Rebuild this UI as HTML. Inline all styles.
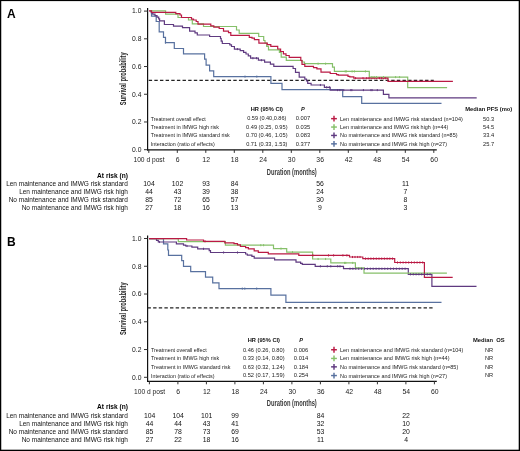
<!DOCTYPE html>
<html><head><meta charset="utf-8"><title>Survival</title>
<style>
html,body{margin:0;padding:0;background:#fff;}
body{width:520px;height:451px;overflow:hidden;}
svg{display:block;}
svg text{font-family:"Liberation Sans", sans-serif;}
</style></head>
<body>
<svg style="will-change:transform" width="520" height="451" viewBox="0 0 520 451">
<rect x="0" y="0" width="520" height="451" fill="#fff"/>
<text x="7.1" y="18.2" font-size="12" font-weight="bold" fill="#000">A</text>
<line x1="147.6" y1="7.9" x2="147.6" y2="150.5" stroke="#111" stroke-width="1.2"/>
<line x1="144.0" y1="11.1" x2="147.6" y2="11.1" stroke="#333" stroke-width="1.0"/>
<text x="141.5" y="13.45" font-size="6.75" text-anchor="end" fill="#151515">1.0</text>
<line x1="144.0" y1="38.82" x2="147.6" y2="38.82" stroke="#333" stroke-width="1.0"/>
<text x="141.5" y="41.17" font-size="6.75" text-anchor="end" fill="#151515">0.8</text>
<line x1="144.0" y1="66.54" x2="147.6" y2="66.54" stroke="#333" stroke-width="1.0"/>
<text x="141.5" y="68.89" font-size="6.75" text-anchor="end" fill="#151515">0.6</text>
<line x1="144.0" y1="94.26" x2="147.6" y2="94.26" stroke="#333" stroke-width="1.0"/>
<text x="141.5" y="96.61" font-size="6.75" text-anchor="end" fill="#151515">0.4</text>
<line x1="144.0" y1="121.98" x2="147.6" y2="121.98" stroke="#333" stroke-width="1.0"/>
<text x="141.5" y="124.33" font-size="6.75" text-anchor="end" fill="#151515">0.2</text>
<line x1="144.0" y1="149.7" x2="147.6" y2="149.7" stroke="#333" stroke-width="1.0"/>
<text x="141.5" y="152.05" font-size="6.75" text-anchor="end" fill="#151515">0.0</text>
<line x1="147.0" y1="149.9" x2="436.8" y2="149.9" stroke="#111" stroke-width="1.3"/>
<line x1="148.8" y1="149.9" x2="148.8" y2="152.9" stroke="#333" stroke-width="1.0"/>
<text x="149.0" y="162.20000000000002" font-size="6.65" text-anchor="middle" fill="#222">100 d post</text>
<line x1="177.3" y1="149.9" x2="177.3" y2="152.9" stroke="#333" stroke-width="1.0"/>
<text x="177.65" y="162.3" font-size="6.85" text-anchor="middle" fill="#222">6</text>
<line x1="205.8" y1="149.9" x2="205.8" y2="152.9" stroke="#333" stroke-width="1.0"/>
<text x="206.15" y="162.3" font-size="6.85" text-anchor="middle" fill="#222">12</text>
<line x1="234.3" y1="149.9" x2="234.3" y2="152.9" stroke="#333" stroke-width="1.0"/>
<text x="234.65" y="162.3" font-size="6.85" text-anchor="middle" fill="#222">18</text>
<line x1="262.8" y1="149.9" x2="262.8" y2="152.9" stroke="#333" stroke-width="1.0"/>
<text x="263.15" y="162.3" font-size="6.85" text-anchor="middle" fill="#222">24</text>
<line x1="291.3" y1="149.9" x2="291.3" y2="152.9" stroke="#333" stroke-width="1.0"/>
<text x="291.65" y="162.3" font-size="6.85" text-anchor="middle" fill="#222">30</text>
<line x1="319.8" y1="149.9" x2="319.8" y2="152.9" stroke="#333" stroke-width="1.0"/>
<text x="320.15" y="162.3" font-size="6.85" text-anchor="middle" fill="#222">36</text>
<line x1="348.3" y1="149.9" x2="348.3" y2="152.9" stroke="#333" stroke-width="1.0"/>
<text x="348.65" y="162.3" font-size="6.85" text-anchor="middle" fill="#222">42</text>
<line x1="376.8" y1="149.9" x2="376.8" y2="152.9" stroke="#333" stroke-width="1.0"/>
<text x="377.15" y="162.3" font-size="6.85" text-anchor="middle" fill="#222">48</text>
<line x1="405.3" y1="149.9" x2="405.3" y2="152.9" stroke="#333" stroke-width="1.0"/>
<text x="405.65" y="162.3" font-size="6.85" text-anchor="middle" fill="#222">54</text>
<line x1="433.8" y1="149.9" x2="433.8" y2="152.9" stroke="#333" stroke-width="1.0"/>
<text x="434.15" y="162.3" font-size="6.85" text-anchor="middle" fill="#222">60</text>
<text x="266.8" y="174.6" font-size="8.3" font-weight="bold" textLength="50" lengthAdjust="spacingAndGlyphs" fill="#3a3a3a">Duration (months)</text>
<text x="0" y="0" font-size="8.6" font-weight="bold" fill="#1e1e1e" textLength="52.7" lengthAdjust="spacingAndGlyphs" transform="translate(126.0 105.15) rotate(-90)">Survival probability</text>
<line x1="148.7" y1="80.4" x2="433.8" y2="80.4" stroke="#222" stroke-width="1.2" stroke-dasharray="3.4 2.24"/>
<path d="M150 11.1 H151.5 V16.2 H156.2 V21.5 H159.2 V31.9 H163.5 V37.3 H165.5 V42.7 H174.3 V48.5 H183.5 V53.8 H204.6 V59.2 H206.1 V65.2 H209.6 V70.8 H213.7 V76.6 H270.9 V83.3 H282 V89.7 H342.7 V96.7 H361.7 V103.3 H441.5" fill="none" stroke="#58719f" stroke-width="1.2" stroke-linejoin="miter" stroke-linecap="butt"/>
<path d="M149.5 11 H151.3 V12.7 H152.7 V14.2 H155 V15.6 H157 V17.2 H158.7 V18.8 H159.6 V20.8 H164.4 V24.5 H173.5 V26.2 H182.5 V27.7 H189.6 V31.2 H195 V32.8 H197.3 V35 H209.6 V36.5 H220.5 V38.5 H221.2 V41.2 H222.3 V43.5 H229.8 V44.8 H231.5 V46.5 H234.4 V49.1 H240.2 V50.6 H243.6 V52.3 H246 V54 H248.3 V55.8 H250.6 V58.2 H258.4 V60.2 H264.6 V62.2 H270.4 V64.2 H273.8 V66.4 H293.1 V68.5 H295.5 V72.3 H299.2 V77.2 H304.8 V79.2 H306.5 V81 H307.7 V83.3 H311.1 V85 H324.4 V87.3 H330.2 V90.1 H383.4 V94.3 H388.9 V97.8 H476.7" fill="none" stroke="#5f3a80" stroke-width="1.2" stroke-linejoin="miter" stroke-linecap="butt"/>
<path d="M150 10.8 H165.6 V14.2 H178 V17.5 H188.5 V20 H192.3 V23.8 H203.5 V26.5 H236.5 V30 H239.2 V33.3 H258.7 V36.5 H263.7 V40.5 H265 V43 H266.7 V46.4 H268.5 V49.8 H279.4 V52.5 H281.2 V57.1 H286.3 V60.4 H302 V62 H304.5 V63.7 H332.5 V67.2 H334.4 V71.4 H369.3 V77.1 H407.7 V87.6 H447.1" fill="none" stroke="#86c06a" stroke-width="1.2" stroke-linejoin="miter" stroke-linecap="butt"/>
<path d="M149 10.9 H151.5 V12.3 H175.8 V13.7 H180 V15 H181.5 V17.5 H191.5 V19.2 H193.5 V20 H196.2 V21.5 H198 V24.2 H210.8 V25.8 H213.8 V27.1 H219.2 V28.5 H223.5 V31.2 H228.5 V32.7 H230.8 V35.4 H249.3 V37.3 H252 V38.2 H254.4 V39.6 H258.9 V43.1 H267.3 V44.7 H270.8 V46.4 H277.7 V49 H280.6 V51.5 H283.4 V53.8 H286 V55.5 H289.2 V57.3 H300.8 V60.5 H302 V64.4 H304.8 V66.3 H313.5 V67.6 H316.9 V68.9 H321 V72.1 H330.2 V73.5 H336.5 V74.6 H338.3 V75.2 H348 V76.3 H349.8 V76.9 H353.8 V78.2 H388 V81.3 H452.9" fill="none" stroke="#ba1a44" stroke-width="1.2" stroke-linejoin="miter" stroke-linecap="butt"/>
<line x1="165.4" y1="41.65" x2="165.4" y2="43.75" stroke="#58719f" stroke-width="1.0"/>
<line x1="245.0" y1="75.55" x2="245.0" y2="77.65" stroke="#58719f" stroke-width="1.0"/>
<line x1="256.8" y1="75.55" x2="256.8" y2="77.65" stroke="#58719f" stroke-width="1.0"/>
<line x1="237.4" y1="48.05" x2="237.4" y2="50.15" stroke="#5f3a80" stroke-width="1.0"/>
<line x1="252.9" y1="57.15" x2="252.9" y2="59.25" stroke="#5f3a80" stroke-width="1.0"/>
<line x1="256.5" y1="57.15" x2="256.5" y2="59.25" stroke="#5f3a80" stroke-width="1.0"/>
<line x1="261.4" y1="59.15" x2="261.4" y2="61.25" stroke="#5f3a80" stroke-width="1.0"/>
<line x1="337.5" y1="89.05" x2="337.5" y2="91.15" stroke="#5f3a80" stroke-width="1.0"/>
<line x1="339.8" y1="89.05" x2="339.8" y2="91.15" stroke="#5f3a80" stroke-width="1.0"/>
<line x1="343.8" y1="89.05" x2="343.8" y2="91.15" stroke="#5f3a80" stroke-width="1.0"/>
<line x1="350.8" y1="89.05" x2="350.8" y2="91.15" stroke="#5f3a80" stroke-width="1.0"/>
<line x1="351.9" y1="89.05" x2="351.9" y2="91.15" stroke="#5f3a80" stroke-width="1.0"/>
<line x1="363.4" y1="89.05" x2="363.4" y2="91.15" stroke="#5f3a80" stroke-width="1.0"/>
<line x1="370.9" y1="89.05" x2="370.9" y2="91.15" stroke="#5f3a80" stroke-width="1.0"/>
<line x1="372.1" y1="89.05" x2="372.1" y2="91.15" stroke="#5f3a80" stroke-width="1.0"/>
<line x1="377.3" y1="89.05" x2="377.3" y2="91.15" stroke="#5f3a80" stroke-width="1.0"/>
<line x1="326.7" y1="86.25" x2="326.7" y2="88.35" stroke="#5f3a80" stroke-width="1.0"/>
<line x1="329.4" y1="86.25" x2="329.4" y2="88.35" stroke="#5f3a80" stroke-width="1.0"/>
<line x1="320.4" y1="83.95" x2="320.4" y2="86.05" stroke="#5f3a80" stroke-width="1.0"/>
<line x1="355.6" y1="77.15" x2="355.6" y2="79.25" stroke="#ba1a44" stroke-width="1.0"/>
<line x1="363.0" y1="77.15" x2="363.0" y2="79.25" stroke="#ba1a44" stroke-width="1.0"/>
<line x1="366.7" y1="77.15" x2="366.7" y2="79.25" stroke="#ba1a44" stroke-width="1.0"/>
<line x1="369" y1="77.15" x2="369" y2="79.25" stroke="#ba1a44" stroke-width="1.0"/>
<line x1="371.9" y1="77.15" x2="371.9" y2="79.25" stroke="#ba1a44" stroke-width="1.0"/>
<line x1="374.2" y1="77.15" x2="374.2" y2="79.25" stroke="#ba1a44" stroke-width="1.0"/>
<line x1="376.5" y1="77.15" x2="376.5" y2="79.25" stroke="#ba1a44" stroke-width="1.0"/>
<line x1="379.4" y1="77.15" x2="379.4" y2="79.25" stroke="#ba1a44" stroke-width="1.0"/>
<line x1="381.7" y1="77.15" x2="381.7" y2="79.25" stroke="#ba1a44" stroke-width="1.0"/>
<line x1="383.5" y1="77.15" x2="383.5" y2="79.25" stroke="#ba1a44" stroke-width="1.0"/>
<line x1="385.2" y1="77.15" x2="385.2" y2="79.25" stroke="#ba1a44" stroke-width="1.0"/>
<line x1="318.1" y1="62.65" x2="318.1" y2="64.75" stroke="#86c06a" stroke-width="1.0"/>
<line x1="325.6" y1="62.65" x2="325.6" y2="64.75" stroke="#86c06a" stroke-width="1.0"/>
<line x1="345.2" y1="70.35" x2="345.2" y2="72.45" stroke="#86c06a" stroke-width="1.0"/>
<line x1="346.3" y1="70.35" x2="346.3" y2="72.45" stroke="#86c06a" stroke-width="1.0"/>
<line x1="352.1" y1="70.35" x2="352.1" y2="72.45" stroke="#86c06a" stroke-width="1.0"/>
<line x1="354.4" y1="70.35" x2="354.4" y2="72.45" stroke="#86c06a" stroke-width="1.0"/>
<line x1="365.4" y1="70.35" x2="365.4" y2="72.45" stroke="#86c06a" stroke-width="1.0"/>
<line x1="371.9" y1="76.05" x2="371.9" y2="78.15" stroke="#86c06a" stroke-width="1.0"/>
<line x1="374.2" y1="76.05" x2="374.2" y2="78.15" stroke="#86c06a" stroke-width="1.0"/>
<line x1="376.5" y1="76.05" x2="376.5" y2="78.15" stroke="#86c06a" stroke-width="1.0"/>
<line x1="383.5" y1="76.05" x2="383.5" y2="78.15" stroke="#86c06a" stroke-width="1.0"/>
<line x1="395.6" y1="76.05" x2="395.6" y2="78.15" stroke="#86c06a" stroke-width="1.0"/>
<line x1="399.6" y1="76.05" x2="399.6" y2="78.15" stroke="#86c06a" stroke-width="1.0"/>
<text x="266.85" y="111.0" font-size="5.4" text-anchor="middle" font-weight="bold" textLength="32.3" lengthAdjust="spacingAndGlyphs" fill="#111">HR (95% CI)</text>
<text x="302.75" y="111.0" font-size="5.6" text-anchor="middle" font-weight="bold" font-style="italic" fill="#111">P</text>
<text x="150.7" y="120.65" font-size="5.8" textLength="55.1" lengthAdjust="spacingAndGlyphs" fill="#222">Treatment overall effect</text>
<text x="150.7" y="129.05" font-size="5.8" textLength="68.3" lengthAdjust="spacingAndGlyphs" fill="#222">Treatment in IMWG high risk</text>
<text x="150.7" y="137.45" font-size="5.8" textLength="79.1" lengthAdjust="spacingAndGlyphs" fill="#222">Treatment in IMWG standard risk</text>
<text x="150.7" y="145.85" font-size="5.8" textLength="64.0" lengthAdjust="spacingAndGlyphs" fill="#222">Interaction (ratio of effects)</text>
<text x="266.8" y="120.4" font-size="5.7" text-anchor="middle" textLength="39.2" lengthAdjust="spacingAndGlyphs" fill="#222">0.59 (0.40,0.86)</text>
<text x="266.8" y="128.8" font-size="5.7" text-anchor="middle" textLength="41.5" lengthAdjust="spacingAndGlyphs" fill="#222">0.49 (0.25, 0.95)</text>
<text x="266.8" y="137.2" font-size="5.7" text-anchor="middle" textLength="41.5" lengthAdjust="spacingAndGlyphs" fill="#222">0.70 (0.46, 1.05)</text>
<text x="266.8" y="145.6" font-size="5.7" text-anchor="middle" textLength="41.2" lengthAdjust="spacingAndGlyphs" fill="#222">0.71 (0.33, 1.53)</text>
<text x="302.9" y="120.4" font-size="5.7" text-anchor="middle" textLength="14.4" lengthAdjust="spacingAndGlyphs" fill="#222">0.007</text>
<text x="302.9" y="128.8" font-size="5.7" text-anchor="middle" textLength="14.4" lengthAdjust="spacingAndGlyphs" fill="#222">0.035</text>
<text x="302.9" y="137.2" font-size="5.7" text-anchor="middle" textLength="14.4" lengthAdjust="spacingAndGlyphs" fill="#222">0.083</text>
<text x="302.9" y="145.6" font-size="5.7" text-anchor="middle" textLength="14.4" lengthAdjust="spacingAndGlyphs" fill="#222">0.377</text>
<line x1="331.1" y1="118.65" x2="336.9" y2="118.65" stroke="#ba1a44" stroke-width="1.45"/>
<line x1="334.0" y1="115.75" x2="334.0" y2="121.55" stroke="#ba1a44" stroke-width="1.45"/>
<text x="340.0" y="120.65" font-size="5.8" textLength="122.75" lengthAdjust="spacingAndGlyphs" fill="#222">Len maintenance and IMWG risk standard (n=104)</text>
<line x1="331.1" y1="127.05" x2="336.9" y2="127.05" stroke="#86c06a" stroke-width="1.45"/>
<line x1="334.0" y1="124.15" x2="334.0" y2="129.95" stroke="#86c06a" stroke-width="1.45"/>
<text x="340.0" y="129.05" font-size="5.8" textLength="108.25" lengthAdjust="spacingAndGlyphs" fill="#222">Len maintenance and IMWG risk high (n=44)</text>
<line x1="331.1" y1="135.45" x2="336.9" y2="135.45" stroke="#5f3a80" stroke-width="1.45"/>
<line x1="334.0" y1="132.55" x2="334.0" y2="138.35" stroke="#5f3a80" stroke-width="1.45"/>
<text x="340.0" y="137.45" font-size="5.8" textLength="117.5" lengthAdjust="spacingAndGlyphs" fill="#222">No maintenance and IMWG risk standard (n=85)</text>
<line x1="331.1" y1="143.85" x2="336.9" y2="143.85" stroke="#58719f" stroke-width="1.45"/>
<line x1="334.0" y1="140.95" x2="334.0" y2="146.75" stroke="#58719f" stroke-width="1.45"/>
<text x="340.0" y="145.85" font-size="5.8" textLength="107.0" lengthAdjust="spacingAndGlyphs" fill="#222">No maintenance and IMWG risk high (n=27)</text>
<text x="465.2" y="111.0" font-size="5.5" font-weight="bold" textLength="47.1" lengthAdjust="spacingAndGlyphs" fill="#111">Median PFS (mo)</text>
<text x="488.6" y="120.55000000000001" font-size="5.7" text-anchor="middle" fill="#222">50.3</text>
<text x="488.6" y="128.95000000000002" font-size="5.7" text-anchor="middle" fill="#222">54.5</text>
<text x="488.6" y="137.35" font-size="5.7" text-anchor="middle" fill="#222">33.4</text>
<text x="488.6" y="145.75" font-size="5.7" text-anchor="middle" fill="#222">25.7</text>
<text x="127.9" y="177.7" font-size="6.6" text-anchor="end" font-weight="bold" fill="#000">At risk (n)</text>
<text x="127.9" y="186.1" font-size="6.5" text-anchor="end" fill="#111">Len maintenance and IMWG risk standard</text>
<text x="149.0" y="186.20000000000002" font-size="6.85" text-anchor="middle" fill="#111">104</text>
<text x="177.5" y="186.20000000000002" font-size="6.85" text-anchor="middle" fill="#111">102</text>
<text x="206.0" y="186.20000000000002" font-size="6.85" text-anchor="middle" fill="#111">93</text>
<text x="234.5" y="186.20000000000002" font-size="6.85" text-anchor="middle" fill="#111">84</text>
<text x="320.0" y="186.20000000000002" font-size="6.85" text-anchor="middle" fill="#111">56</text>
<text x="405.5" y="186.20000000000002" font-size="6.85" text-anchor="middle" fill="#111">11</text>
<text x="127.9" y="194.1" font-size="6.5" text-anchor="end" fill="#111">Len maintenance and IMWG risk high</text>
<text x="149.0" y="194.20000000000002" font-size="6.85" text-anchor="middle" fill="#111">44</text>
<text x="177.5" y="194.20000000000002" font-size="6.85" text-anchor="middle" fill="#111">43</text>
<text x="206.0" y="194.20000000000002" font-size="6.85" text-anchor="middle" fill="#111">39</text>
<text x="234.5" y="194.20000000000002" font-size="6.85" text-anchor="middle" fill="#111">38</text>
<text x="320.0" y="194.20000000000002" font-size="6.85" text-anchor="middle" fill="#111">24</text>
<text x="405.5" y="194.20000000000002" font-size="6.85" text-anchor="middle" fill="#111">7</text>
<text x="127.9" y="202.1" font-size="6.5" text-anchor="end" fill="#111">No maintenance and IMWG risk standard</text>
<text x="149.0" y="202.20000000000002" font-size="6.85" text-anchor="middle" fill="#111">85</text>
<text x="177.5" y="202.20000000000002" font-size="6.85" text-anchor="middle" fill="#111">72</text>
<text x="206.0" y="202.20000000000002" font-size="6.85" text-anchor="middle" fill="#111">65</text>
<text x="234.5" y="202.20000000000002" font-size="6.85" text-anchor="middle" fill="#111">57</text>
<text x="320.0" y="202.20000000000002" font-size="6.85" text-anchor="middle" fill="#111">30</text>
<text x="405.5" y="202.20000000000002" font-size="6.85" text-anchor="middle" fill="#111">8</text>
<text x="127.9" y="210.1" font-size="6.5" text-anchor="end" fill="#111">No maintenance and IMWG risk high</text>
<text x="149.0" y="210.20000000000002" font-size="6.85" text-anchor="middle" fill="#111">27</text>
<text x="177.5" y="210.20000000000002" font-size="6.85" text-anchor="middle" fill="#111">18</text>
<text x="206.0" y="210.20000000000002" font-size="6.85" text-anchor="middle" fill="#111">16</text>
<text x="234.5" y="210.20000000000002" font-size="6.85" text-anchor="middle" fill="#111">13</text>
<text x="320.0" y="210.20000000000002" font-size="6.85" text-anchor="middle" fill="#111">9</text>
<text x="405.5" y="210.20000000000002" font-size="6.85" text-anchor="middle" fill="#111">3</text>
<text x="7.1" y="245.9" font-size="12" font-weight="bold" fill="#000">B</text>
<line x1="147.6" y1="235.5" x2="147.6" y2="381.9" stroke="#111" stroke-width="1.2"/>
<line x1="144.0" y1="238.5" x2="147.6" y2="238.5" stroke="#333" stroke-width="1.0"/>
<text x="141.5" y="240.85" font-size="6.75" text-anchor="end" fill="#151515">1.0</text>
<line x1="144.0" y1="266.26" x2="147.6" y2="266.26" stroke="#333" stroke-width="1.0"/>
<text x="141.5" y="268.61" font-size="6.75" text-anchor="end" fill="#151515">0.8</text>
<line x1="144.0" y1="294.02" x2="147.6" y2="294.02" stroke="#333" stroke-width="1.0"/>
<text x="141.5" y="296.37" font-size="6.75" text-anchor="end" fill="#151515">0.6</text>
<line x1="144.0" y1="321.78" x2="147.6" y2="321.78" stroke="#333" stroke-width="1.0"/>
<text x="141.5" y="324.13" font-size="6.75" text-anchor="end" fill="#151515">0.4</text>
<line x1="144.0" y1="349.54" x2="147.6" y2="349.54" stroke="#333" stroke-width="1.0"/>
<text x="141.5" y="351.89" font-size="6.75" text-anchor="end" fill="#151515">0.2</text>
<line x1="144.0" y1="377.3" x2="147.6" y2="377.3" stroke="#333" stroke-width="1.0"/>
<text x="141.5" y="379.65" font-size="6.75" text-anchor="end" fill="#151515">0.0</text>
<line x1="147.0" y1="381.3" x2="436.8" y2="381.3" stroke="#111" stroke-width="1.3"/>
<line x1="149.4" y1="381.3" x2="149.4" y2="384.3" stroke="#333" stroke-width="1.0"/>
<text x="149.6" y="393.90000000000003" font-size="6.65" text-anchor="middle" fill="#222">100 d post</text>
<line x1="177.9" y1="381.3" x2="177.9" y2="384.3" stroke="#333" stroke-width="1.0"/>
<text x="178.25" y="394.0" font-size="6.85" text-anchor="middle" fill="#222">6</text>
<line x1="206.4" y1="381.3" x2="206.4" y2="384.3" stroke="#333" stroke-width="1.0"/>
<text x="206.75" y="394.0" font-size="6.85" text-anchor="middle" fill="#222">12</text>
<line x1="234.9" y1="381.3" x2="234.9" y2="384.3" stroke="#333" stroke-width="1.0"/>
<text x="235.25" y="394.0" font-size="6.85" text-anchor="middle" fill="#222">18</text>
<line x1="263.4" y1="381.3" x2="263.4" y2="384.3" stroke="#333" stroke-width="1.0"/>
<text x="263.75" y="394.0" font-size="6.85" text-anchor="middle" fill="#222">24</text>
<line x1="291.9" y1="381.3" x2="291.9" y2="384.3" stroke="#333" stroke-width="1.0"/>
<text x="292.25" y="394.0" font-size="6.85" text-anchor="middle" fill="#222">30</text>
<line x1="320.4" y1="381.3" x2="320.4" y2="384.3" stroke="#333" stroke-width="1.0"/>
<text x="320.75" y="394.0" font-size="6.85" text-anchor="middle" fill="#222">36</text>
<line x1="348.9" y1="381.3" x2="348.9" y2="384.3" stroke="#333" stroke-width="1.0"/>
<text x="349.25" y="394.0" font-size="6.85" text-anchor="middle" fill="#222">42</text>
<line x1="377.4" y1="381.3" x2="377.4" y2="384.3" stroke="#333" stroke-width="1.0"/>
<text x="377.75" y="394.0" font-size="6.85" text-anchor="middle" fill="#222">48</text>
<line x1="405.9" y1="381.3" x2="405.9" y2="384.3" stroke="#333" stroke-width="1.0"/>
<text x="406.25" y="394.0" font-size="6.85" text-anchor="middle" fill="#222">54</text>
<line x1="434.4" y1="381.3" x2="434.4" y2="384.3" stroke="#333" stroke-width="1.0"/>
<text x="434.75" y="394.0" font-size="6.85" text-anchor="middle" fill="#222">60</text>
<text x="266.8" y="406.4" font-size="8.3" font-weight="bold" textLength="50" lengthAdjust="spacingAndGlyphs" fill="#3a3a3a">Duration (months)</text>
<text x="0" y="0" font-size="8.6" font-weight="bold" fill="#1e1e1e" textLength="52.7" lengthAdjust="spacingAndGlyphs" transform="translate(126.0 335.05) rotate(-90)">Survival probability</text>
<line x1="147.5" y1="307.9" x2="432.6" y2="307.9" stroke="#222" stroke-width="1.2" stroke-dasharray="3.4 2.234"/>
<path d="M149 238.6 H163.5 V243.9 H167.8 V250 H168.5 V255.3 H181.7 V260.7 H183.5 V266.3 H190.7 V271.6 H205.5 V277.1 H212.7 V282.9 H219 V288.6 H270.9 V295.2 H285.9 V302.3 H441.5" fill="none" stroke="#58719f" stroke-width="1.2" stroke-linejoin="miter" stroke-linecap="butt"/>
<path d="M149 238.6 H156.5 V240.3 H158.3 V242 H176.4 V243.9 H183.5 V245.2 H185.7 V246 H191.9 V247.1 H197.7 V248.8 H209.2 V250.7 H210.5 V252.5 H245.6 V254 H247.3 V255.2 H251.9 V256.3 H254.2 V258.1 H274.6 V259.9 H296 V262.1 H300.6 V263.3 H302.3 V264.4 H315.2 V266.3 H343.5 V268.7 H408.3 V274.3 H431.9 V286.3 H476.5" fill="none" stroke="#5f3a80" stroke-width="1.2" stroke-linejoin="miter" stroke-linecap="butt"/>
<path d="M149 238.6 H178.3 V241.6 H225.4 V245.2 H273.5 V248.6 H286.7 V252.2 H312.6 V259 H330.8 V262.9 H355.4 V267.8 H364 V273.2 H446.9" fill="none" stroke="#86c06a" stroke-width="1.2" stroke-linejoin="miter" stroke-linecap="butt"/>
<path d="M149 238.6 H186.6 V240 H203.5 V241.3 H224.8 V242.8 H234 V243.7 H237.5 V244.8 H240.4 V246.5 H245.6 V247.7 H248.4 V248.8 H254.2 V250.9 H258.3 V252.3 H268.3 V253.8 H298.8 V255.4 H349.5 V257 H362.8 V258.6 H394.7 V262.5 H424.4 V277.3 H452.7" fill="none" stroke="#ba1a44" stroke-width="1.2" stroke-linejoin="miter" stroke-linecap="butt"/>
<line x1="312.9" y1="254.35" x2="312.9" y2="256.45" stroke="#ba1a44" stroke-width="1.0"/>
<line x1="328.5" y1="254.35" x2="328.5" y2="256.45" stroke="#ba1a44" stroke-width="1.0"/>
<line x1="333.6" y1="254.35" x2="333.6" y2="256.45" stroke="#ba1a44" stroke-width="1.0"/>
<line x1="342.9" y1="254.35" x2="342.9" y2="256.45" stroke="#ba1a44" stroke-width="1.0"/>
<line x1="346.9" y1="254.35" x2="346.9" y2="256.45" stroke="#ba1a44" stroke-width="1.0"/>
<line x1="352.5" y1="255.95" x2="352.5" y2="258.05" stroke="#ba1a44" stroke-width="1.0"/>
<line x1="355.0" y1="255.95" x2="355.0" y2="258.05" stroke="#ba1a44" stroke-width="1.0"/>
<line x1="357.7" y1="255.95" x2="357.7" y2="258.05" stroke="#ba1a44" stroke-width="1.0"/>
<line x1="360.0" y1="255.95" x2="360.0" y2="258.05" stroke="#ba1a44" stroke-width="1.0"/>
<line x1="365.5" y1="257.55" x2="365.5" y2="259.65" stroke="#ba1a44" stroke-width="1.0"/>
<line x1="368.2" y1="257.55" x2="368.2" y2="259.65" stroke="#ba1a44" stroke-width="1.0"/>
<line x1="370.9" y1="257.55" x2="370.9" y2="259.65" stroke="#ba1a44" stroke-width="1.0"/>
<line x1="373.6" y1="257.55" x2="373.6" y2="259.65" stroke="#ba1a44" stroke-width="1.0"/>
<line x1="376.3" y1="257.55" x2="376.3" y2="259.65" stroke="#ba1a44" stroke-width="1.0"/>
<line x1="379.0" y1="257.55" x2="379.0" y2="259.65" stroke="#ba1a44" stroke-width="1.0"/>
<line x1="381.7" y1="257.55" x2="381.7" y2="259.65" stroke="#ba1a44" stroke-width="1.0"/>
<line x1="384.4" y1="257.55" x2="384.4" y2="259.65" stroke="#ba1a44" stroke-width="1.0"/>
<line x1="387.1" y1="257.55" x2="387.1" y2="259.65" stroke="#ba1a44" stroke-width="1.0"/>
<line x1="389.8" y1="257.55" x2="389.8" y2="259.65" stroke="#ba1a44" stroke-width="1.0"/>
<line x1="392.5" y1="257.55" x2="392.5" y2="259.65" stroke="#ba1a44" stroke-width="1.0"/>
<line x1="397.5" y1="261.45" x2="397.5" y2="263.55" stroke="#ba1a44" stroke-width="1.0"/>
<line x1="400.3" y1="261.45" x2="400.3" y2="263.55" stroke="#ba1a44" stroke-width="1.0"/>
<line x1="403.1" y1="261.45" x2="403.1" y2="263.55" stroke="#ba1a44" stroke-width="1.0"/>
<line x1="405.9" y1="261.45" x2="405.9" y2="263.55" stroke="#ba1a44" stroke-width="1.0"/>
<line x1="408.7" y1="261.45" x2="408.7" y2="263.55" stroke="#ba1a44" stroke-width="1.0"/>
<line x1="411.5" y1="261.45" x2="411.5" y2="263.55" stroke="#ba1a44" stroke-width="1.0"/>
<line x1="414.3" y1="261.45" x2="414.3" y2="263.55" stroke="#ba1a44" stroke-width="1.0"/>
<line x1="417.1" y1="261.45" x2="417.1" y2="263.55" stroke="#ba1a44" stroke-width="1.0"/>
<line x1="419.9" y1="261.45" x2="419.9" y2="263.55" stroke="#ba1a44" stroke-width="1.0"/>
<line x1="422.7" y1="261.45" x2="422.7" y2="263.55" stroke="#ba1a44" stroke-width="1.0"/>
<line x1="350.0" y1="267.65" x2="350.0" y2="269.75" stroke="#5f3a80" stroke-width="1.0"/>
<line x1="352.9" y1="267.65" x2="352.9" y2="269.75" stroke="#5f3a80" stroke-width="1.0"/>
<line x1="355.8" y1="267.65" x2="355.8" y2="269.75" stroke="#5f3a80" stroke-width="1.0"/>
<line x1="358.7" y1="267.65" x2="358.7" y2="269.75" stroke="#5f3a80" stroke-width="1.0"/>
<line x1="361.6" y1="267.65" x2="361.6" y2="269.75" stroke="#5f3a80" stroke-width="1.0"/>
<line x1="364.5" y1="267.65" x2="364.5" y2="269.75" stroke="#5f3a80" stroke-width="1.0"/>
<line x1="367.4" y1="267.65" x2="367.4" y2="269.75" stroke="#5f3a80" stroke-width="1.0"/>
<line x1="370.3" y1="267.65" x2="370.3" y2="269.75" stroke="#5f3a80" stroke-width="1.0"/>
<line x1="373.2" y1="267.65" x2="373.2" y2="269.75" stroke="#5f3a80" stroke-width="1.0"/>
<line x1="376.1" y1="267.65" x2="376.1" y2="269.75" stroke="#5f3a80" stroke-width="1.0"/>
<line x1="379.0" y1="267.65" x2="379.0" y2="269.75" stroke="#5f3a80" stroke-width="1.0"/>
<line x1="381.9" y1="267.65" x2="381.9" y2="269.75" stroke="#5f3a80" stroke-width="1.0"/>
<line x1="384.8" y1="267.65" x2="384.8" y2="269.75" stroke="#5f3a80" stroke-width="1.0"/>
<line x1="387.7" y1="267.65" x2="387.7" y2="269.75" stroke="#5f3a80" stroke-width="1.0"/>
<line x1="390.6" y1="267.65" x2="390.6" y2="269.75" stroke="#5f3a80" stroke-width="1.0"/>
<line x1="393.5" y1="267.65" x2="393.5" y2="269.75" stroke="#5f3a80" stroke-width="1.0"/>
<line x1="396.4" y1="267.65" x2="396.4" y2="269.75" stroke="#5f3a80" stroke-width="1.0"/>
<line x1="399.3" y1="267.65" x2="399.3" y2="269.75" stroke="#5f3a80" stroke-width="1.0"/>
<line x1="402.2" y1="267.65" x2="402.2" y2="269.75" stroke="#5f3a80" stroke-width="1.0"/>
<line x1="405.1" y1="267.65" x2="405.1" y2="269.75" stroke="#5f3a80" stroke-width="1.0"/>
<line x1="320.4" y1="265.25" x2="320.4" y2="267.35" stroke="#5f3a80" stroke-width="1.0"/>
<line x1="327.3" y1="265.25" x2="327.3" y2="267.35" stroke="#5f3a80" stroke-width="1.0"/>
<line x1="330.8" y1="265.25" x2="330.8" y2="267.35" stroke="#5f3a80" stroke-width="1.0"/>
<line x1="337.7" y1="265.25" x2="337.7" y2="267.35" stroke="#5f3a80" stroke-width="1.0"/>
<line x1="340.0" y1="265.25" x2="340.0" y2="267.35" stroke="#5f3a80" stroke-width="1.0"/>
<line x1="410.5" y1="273.25" x2="410.5" y2="275.35" stroke="#5f3a80" stroke-width="1.0"/>
<line x1="413.3" y1="273.25" x2="413.3" y2="275.35" stroke="#5f3a80" stroke-width="1.0"/>
<line x1="416.1" y1="273.25" x2="416.1" y2="275.35" stroke="#5f3a80" stroke-width="1.0"/>
<line x1="418.9" y1="273.25" x2="418.9" y2="275.35" stroke="#5f3a80" stroke-width="1.0"/>
<line x1="421.7" y1="273.25" x2="421.7" y2="275.35" stroke="#5f3a80" stroke-width="1.0"/>
<line x1="424.5" y1="273.25" x2="424.5" y2="275.35" stroke="#5f3a80" stroke-width="1.0"/>
<line x1="427.3" y1="273.25" x2="427.3" y2="275.35" stroke="#5f3a80" stroke-width="1.0"/>
<line x1="430.1" y1="273.25" x2="430.1" y2="275.35" stroke="#5f3a80" stroke-width="1.0"/>
<line x1="260.8" y1="244.15" x2="260.8" y2="246.25" stroke="#86c06a" stroke-width="1.0"/>
<line x1="263.6" y1="244.15" x2="263.6" y2="246.25" stroke="#86c06a" stroke-width="1.0"/>
<line x1="281.0" y1="247.55" x2="281.0" y2="249.65" stroke="#86c06a" stroke-width="1.0"/>
<line x1="292.5" y1="251.15" x2="292.5" y2="253.25" stroke="#86c06a" stroke-width="1.0"/>
<line x1="318.1" y1="257.95" x2="318.1" y2="260.05" stroke="#86c06a" stroke-width="1.0"/>
<line x1="325.6" y1="257.95" x2="325.6" y2="260.05" stroke="#86c06a" stroke-width="1.0"/>
<line x1="344.6" y1="261.85" x2="344.6" y2="263.95" stroke="#86c06a" stroke-width="1.0"/>
<line x1="345.8" y1="261.85" x2="345.8" y2="263.95" stroke="#86c06a" stroke-width="1.0"/>
<line x1="352.7" y1="261.85" x2="352.7" y2="263.95" stroke="#86c06a" stroke-width="1.0"/>
<line x1="242.3" y1="287.55" x2="242.3" y2="289.65" stroke="#58719f" stroke-width="1.0"/>
<line x1="244.8" y1="287.55" x2="244.8" y2="289.65" stroke="#58719f" stroke-width="1.0"/>
<line x1="256.7" y1="287.55" x2="256.7" y2="289.65" stroke="#58719f" stroke-width="1.0"/>
<line x1="223.6" y1="251.45" x2="223.6" y2="253.55" stroke="#5f3a80" stroke-width="1.0"/>
<line x1="237.5" y1="251.45" x2="237.5" y2="253.55" stroke="#5f3a80" stroke-width="1.0"/>
<line x1="203.5" y1="247.75" x2="203.5" y2="249.85" stroke="#5f3a80" stroke-width="1.0"/>
<line x1="159.4" y1="240.95" x2="159.4" y2="243.05" stroke="#5f3a80" stroke-width="1.0"/>
<line x1="187.0" y1="244.95" x2="187.0" y2="247.05" stroke="#5f3a80" stroke-width="1.0"/>
<line x1="205.0" y1="240.25" x2="205.0" y2="242.35" stroke="#ba1a44" stroke-width="1.0"/>
<text x="263.85" y="342.4" font-size="5.4" text-anchor="middle" font-weight="bold" textLength="32.3" lengthAdjust="spacingAndGlyphs" fill="#111">HR (95% CI)</text>
<text x="301.2" y="342.4" font-size="5.6" text-anchor="middle" font-weight="bold" font-style="italic" fill="#111">P</text>
<text x="151.0" y="351.75" font-size="5.8" textLength="55.7" lengthAdjust="spacingAndGlyphs" fill="#222">Treatment overall effect</text>
<text x="151.0" y="360.45" font-size="5.8" textLength="68.2" lengthAdjust="spacingAndGlyphs" fill="#222">Treatment in IMWG high risk</text>
<text x="151.0" y="368.85" font-size="5.8" textLength="79.4" lengthAdjust="spacingAndGlyphs" fill="#222">Treatment in IMWG standard risk</text>
<text x="151.0" y="377.55" font-size="5.8" textLength="63.5" lengthAdjust="spacingAndGlyphs" fill="#222">Interaction (ratio of effects)</text>
<text x="263.75" y="351.5" font-size="5.7" text-anchor="middle" textLength="41.7" lengthAdjust="spacingAndGlyphs" fill="#222">0.46 (0.26, 0.80)</text>
<text x="263.75" y="360.2" font-size="5.7" text-anchor="middle" textLength="41.7" lengthAdjust="spacingAndGlyphs" fill="#222">0.33 (0.14, 0.80)</text>
<text x="263.75" y="368.6" font-size="5.7" text-anchor="middle" textLength="41.7" lengthAdjust="spacingAndGlyphs" fill="#222">0.63 (0.32, 1.24)</text>
<text x="263.75" y="377.3" font-size="5.7" text-anchor="middle" textLength="41.7" lengthAdjust="spacingAndGlyphs" fill="#222">0.52 (0.17, 1.59)</text>
<text x="301.05" y="351.5" font-size="5.7" text-anchor="middle" textLength="14.4" lengthAdjust="spacingAndGlyphs" fill="#222">0.006</text>
<text x="301.05" y="360.2" font-size="5.7" text-anchor="middle" textLength="14.4" lengthAdjust="spacingAndGlyphs" fill="#222">0.014</text>
<text x="301.05" y="368.6" font-size="5.7" text-anchor="middle" textLength="14.4" lengthAdjust="spacingAndGlyphs" fill="#222">0.184</text>
<text x="301.05" y="377.3" font-size="5.7" text-anchor="middle" textLength="14.4" lengthAdjust="spacingAndGlyphs" fill="#222">0.254</text>
<line x1="331.1" y1="349.75" x2="336.9" y2="349.75" stroke="#ba1a44" stroke-width="1.45"/>
<line x1="334.0" y1="346.85" x2="334.0" y2="352.65" stroke="#ba1a44" stroke-width="1.45"/>
<text x="340.0" y="351.75" font-size="5.8" textLength="123.25" lengthAdjust="spacingAndGlyphs" fill="#222">Len maintenance and IMWG risk standard (n=104)</text>
<line x1="331.1" y1="358.45" x2="336.9" y2="358.45" stroke="#86c06a" stroke-width="1.45"/>
<line x1="334.0" y1="355.55" x2="334.0" y2="361.35" stroke="#86c06a" stroke-width="1.45"/>
<text x="340.0" y="360.45" font-size="5.8" textLength="109.5" lengthAdjust="spacingAndGlyphs" fill="#222">Len maintenance and IMWG risk high (n=44)</text>
<line x1="331.1" y1="366.85" x2="336.9" y2="366.85" stroke="#5f3a80" stroke-width="1.45"/>
<line x1="334.0" y1="363.95" x2="334.0" y2="369.75" stroke="#5f3a80" stroke-width="1.45"/>
<text x="340.0" y="368.85" font-size="5.8" textLength="118.25" lengthAdjust="spacingAndGlyphs" fill="#222">No maintenance and IMWG risk standard (n=85)</text>
<line x1="331.1" y1="375.55" x2="336.9" y2="375.55" stroke="#58719f" stroke-width="1.45"/>
<line x1="334.0" y1="372.65" x2="334.0" y2="378.45" stroke="#58719f" stroke-width="1.45"/>
<text x="340.0" y="377.55" font-size="5.8" textLength="107.0" lengthAdjust="spacingAndGlyphs" fill="#222">No maintenance and IMWG risk high (n=27)</text>
<text x="473.0" y="342.4" font-size="5.5" font-weight="bold" textLength="31.6" lengthAdjust="spacingAndGlyphs" fill="#111">Median&#160;&#160;OS</text>
<text x="489.0" y="351.65" font-size="5.7" text-anchor="middle" fill="#222">NR</text>
<text x="489.0" y="360.34999999999997" font-size="5.7" text-anchor="middle" fill="#222">NR</text>
<text x="489.0" y="368.75" font-size="5.7" text-anchor="middle" fill="#222">NR</text>
<text x="489.0" y="377.45" font-size="5.7" text-anchor="middle" fill="#222">NR</text>
<text x="127.9" y="409.0" font-size="6.6" text-anchor="end" font-weight="bold" fill="#000">At risk (n)</text>
<text x="127.9" y="417.7" font-size="6.5" text-anchor="end" fill="#111">Len maintenance and IMWG risk standard</text>
<text x="149.6" y="417.8" font-size="6.85" text-anchor="middle" fill="#111">104</text>
<text x="178.1" y="417.8" font-size="6.85" text-anchor="middle" fill="#111">104</text>
<text x="206.6" y="417.8" font-size="6.85" text-anchor="middle" fill="#111">101</text>
<text x="235.1" y="417.8" font-size="6.85" text-anchor="middle" fill="#111">99</text>
<text x="320.6" y="417.8" font-size="6.85" text-anchor="middle" fill="#111">84</text>
<text x="406.1" y="417.8" font-size="6.85" text-anchor="middle" fill="#111">22</text>
<text x="127.9" y="425.9" font-size="6.5" text-anchor="end" fill="#111">Len maintenance and IMWG risk high</text>
<text x="149.6" y="426.0" font-size="6.85" text-anchor="middle" fill="#111">44</text>
<text x="178.1" y="426.0" font-size="6.85" text-anchor="middle" fill="#111">44</text>
<text x="206.6" y="426.0" font-size="6.85" text-anchor="middle" fill="#111">43</text>
<text x="235.1" y="426.0" font-size="6.85" text-anchor="middle" fill="#111">41</text>
<text x="320.6" y="426.0" font-size="6.85" text-anchor="middle" fill="#111">32</text>
<text x="406.1" y="426.0" font-size="6.85" text-anchor="middle" fill="#111">10</text>
<text x="127.9" y="433.9" font-size="6.5" text-anchor="end" fill="#111">No maintenance and IMWG risk standard</text>
<text x="149.6" y="434.0" font-size="6.85" text-anchor="middle" fill="#111">85</text>
<text x="178.1" y="434.0" font-size="6.85" text-anchor="middle" fill="#111">78</text>
<text x="206.6" y="434.0" font-size="6.85" text-anchor="middle" fill="#111">73</text>
<text x="235.1" y="434.0" font-size="6.85" text-anchor="middle" fill="#111">69</text>
<text x="320.6" y="434.0" font-size="6.85" text-anchor="middle" fill="#111">53</text>
<text x="406.1" y="434.0" font-size="6.85" text-anchor="middle" fill="#111">20</text>
<text x="127.9" y="441.9" font-size="6.5" text-anchor="end" fill="#111">No maintenance and IMWG risk high</text>
<text x="149.6" y="442.0" font-size="6.85" text-anchor="middle" fill="#111">27</text>
<text x="178.1" y="442.0" font-size="6.85" text-anchor="middle" fill="#111">22</text>
<text x="206.6" y="442.0" font-size="6.85" text-anchor="middle" fill="#111">18</text>
<text x="235.1" y="442.0" font-size="6.85" text-anchor="middle" fill="#111">16</text>
<text x="320.6" y="442.0" font-size="6.85" text-anchor="middle" fill="#111">11</text>
<text x="406.1" y="442.0" font-size="6.85" text-anchor="middle" fill="#111">4</text>
<rect x="0" y="0" width="520" height="1.1" fill="#000"/>
<rect x="0" y="0" width="1.25" height="451" fill="#000"/>
<rect x="518.7" y="0" width="1.3" height="451" fill="#000"/>
<rect x="0" y="449.7" width="520" height="1.3" fill="#000"/>
</svg>
</body></html>
